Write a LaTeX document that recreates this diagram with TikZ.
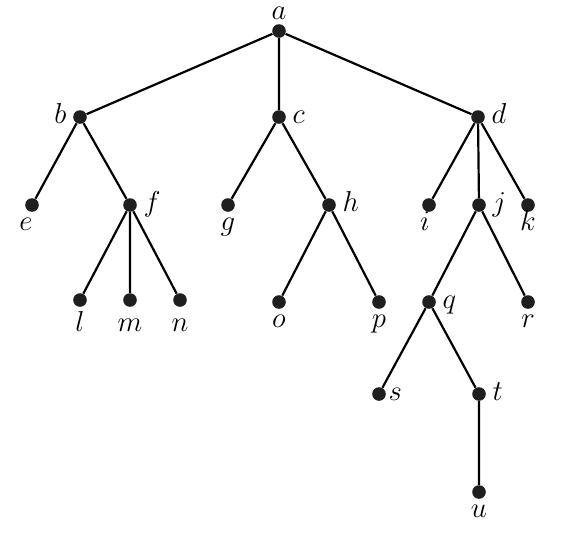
\documentclass[tikz,border=0pt]{standalone}

\begin{document}
\begin{tikzpicture}[x=0.5pt,y=-0.5pt,
  vtx/.style={circle,fill=black!88,inner sep=0pt,minimum size=6.8pt},
  every label/.style={inner sep=0pt,text height=6pt,text depth=0pt,
    font=\fontsize{14}{16}\selectfont},
  label distance=3pt,
  edge/.style={line width=1.1pt}]

\useasboundingbox (0,0) rectangle (578,532);

 % level 0 and 1
 \node[vtx,label={[label distance=2pt]above:$a$}] (a) at (279,31) {};
 \node[vtx,label=left:$b$]  (b) at (80,117) {};
 \node[vtx,label=right:$c$] (c) at (279,117) {};
 \node[vtx,label=right:$d$] (d) at (478,117) {};

 % level 2
 \node[vtx,label={[xshift=-3pt]below:$e$}] (e) at (32,205) {};
 \node[vtx,label=right:$f$] (f) at (130,205) {};
 \node[vtx,label=below:$g$] (g) at (228,205) {};
 \node[vtx,label=right:$h$] (h) at (329,205) {};
 \node[vtx,label={[xshift=-2pt]below:$i$}] (i) at (429,205) {};
 \node[vtx,label=right:$j$] (j) at (479,205) {};
 \node[vtx,label=below:$k$] (k) at (528,205) {};

 % level 3
 \node[vtx,label={[label distance=6pt]below:$l$}] (l) at (80,300) {};
 \node[vtx,label={[label distance=6pt]below:$m$}] (m) at (130,300) {};
 \node[vtx,label={[label distance=6pt]below:$n$}] (n) at (180,300) {};
 \node[vtx,label=below:$o$] (o) at (279,302) {};
 \node[vtx,label=below:$p$] (p) at (379,302) {};
 \node[vtx,label=right:$q$] (q) at (429,302) {};
 \node[vtx,label=below:$r$] (r) at (528,302) {};

 % level 4 and 5
 \node[vtx,label={[label distance=1pt]right:$s$}] (s) at (379,394) {};
 \node[vtx,label=right:$t$] (t) at (479,394) {};
 \node[vtx,label=below:$u$] (u) at (479,492) {};

 \draw[edge] (a) -- (b) (a) -- (c) (a) -- (d);
 \draw[edge] (b) -- (e) (b) -- (f) (c) -- (g) (c) -- (h);
 \draw[edge] (d) -- (i) (d) -- (j) (d) -- (k);
 \draw[edge] (f) -- (l) (f) -- (m) (f) -- (n);
 \draw[edge] (h) -- (o) (h) -- (p) (j) -- (q) (j) -- (r);
 \draw[edge] (q) -- (s) (q) -- (t) (t) -- (u);
\end{tikzpicture}
\end{document}
